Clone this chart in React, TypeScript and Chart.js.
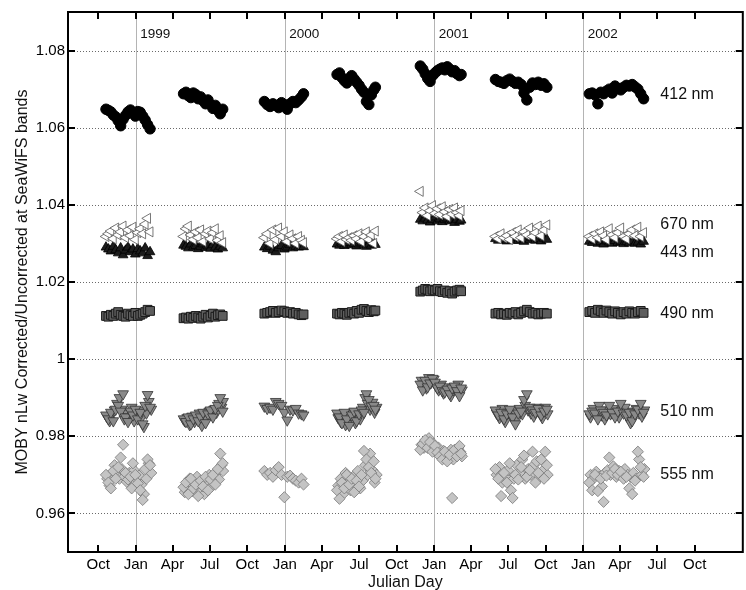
import React, { useEffect, useRef } from "react";
import { Chart, registerables } from "chart.js";

Chart.register(...registerables);

// Days counted from 1 Jan 1998, grouped by deployment (A..G)
const DAYS = [
  292, 298, 304, 310, 316, 322, 328, 334, 340, 346, 352, 358, 364, 370, 376, 382, 388, 394, 400,
  482, 488, 494, 500, 506, 512, 518, 524, 530, 536, 542, 548, 554, 560, 566, 572, 578,
  680, 687, 694, 701, 708, 715, 722, 729, 736, 743, 750, 757, 764, 771, 776,
  858, 864, 870, 876, 882, 888, 894, 900, 906, 912, 918, 924, 930, 936, 942, 948, 952,
  1062, 1068, 1074, 1080, 1086, 1092, 1098, 1104, 1110, 1116, 1122, 1128, 1134, 1140, 1146, 1152, 1158, 1162,
  1246, 1253, 1260, 1267, 1274, 1281, 1288, 1295, 1302, 1309, 1316, 1323, 1330, 1337, 1344, 1351, 1358, 1365, 1372,
  1476, 1483, 1490, 1497, 1504, 1511, 1518, 1525, 1532, 1539, 1546, 1553, 1560, 1567, 1574, 1581, 1588, 1595, 1602, 1609,
];

// extra match-up days (deployments A, B, D, E, F, G) for the denser 510/555 clouds
const DAYS_EXTRA = [
  295, 301, 307, 313, 319, 325, 331, 337, 343, 349, 355, 361, 367, 373, 379, 385, 391, 397, 403,
  485, 491, 497, 503, 509, 515, 521, 527, 533, 539, 545, 551, 557, 563, 569, 575, 579,
  861, 867, 873, 879, 885, 891, 897, 903, 909, 915, 921, 927, 933, 939, 945, 950, 955,
  1065, 1071, 1077, 1083, 1089, 1095, 1101, 1107, 1113, 1119, 1125, 1131, 1137, 1143, 1149, 1155, 1160, 1164,
  1249, 1256, 1263, 1270, 1277, 1284, 1291, 1298, 1305, 1312, 1319, 1326, 1333, 1340, 1347, 1354, 1361, 1368, 1374,
  1479, 1486, 1493, 1500, 1507, 1514, 1521, 1528, 1535, 1542, 1549, 1556, 1563, 1570, 1577, 1584, 1591, 1598, 1605, 1611,
];

const NM412 = [
  1.0648, 1.0645, 1.0641, 1.0633, 1.0628, 1.0618, 1.0605, 1.0622, 1.0632, 1.0641, 1.0646, 1.0638, 1.0630, 1.0642, 1.0640, 1.0630, 1.0620, 1.0608, 1.0597,
  1.0688, 1.0692, 1.0683, 1.0678, 1.0690, 1.0686, 1.0675, 1.0680, 1.0670, 1.0662, 1.0672, 1.0660, 1.0650, 1.0658, 1.0645, 1.0636, 1.0648,
  1.0668, 1.0660, 1.0655, 1.0662, 1.0658, 1.0652, 1.0665, 1.0660, 1.0648, 1.0662, 1.0668, 1.0665, 1.0672, 1.0680, 1.0688,
  1.0738, 1.0742, 1.0730, 1.0722, 1.0716, 1.0728, 1.0735, 1.0726, 1.0718, 1.0710, 1.0700, 1.0692, 1.0668, 1.0660, 1.0685, 1.0698, 1.0705,
  1.0760, 1.0752, 1.0740, 1.0728, 1.0720, 1.0735, 1.0742, 1.0748, 1.0752, 1.0755, 1.0750, 1.0758, 1.0752, 1.0745, 1.0748, 1.0740, 1.0735, 1.0738,
  1.0725, 1.0720, 1.0718, 1.0715, 1.0722, 1.0726, 1.0720, 1.0715, 1.0718, 1.0712, 1.0690, 1.0672, 1.0705, 1.0716, 1.0712, 1.0718, 1.0710, 1.0714, 1.0705,
  1.0688, 1.0690, 1.0685, 1.0662, 1.0692, 1.0688, 1.0695, 1.0700, 1.0690, 1.0708, 1.0702, 1.0698, 1.0705, 1.0710, 1.0708, 1.0712, 1.0706, 1.0700, 1.0688, 1.0675,
];

const NM670 = [
  1.0318, 1.0325, 1.0332, 1.0312, 1.0340, 1.0322, 1.0330, 1.0345, 1.0315, 1.0335, 1.0320, 1.0342, 1.0310, 1.0328, 1.0338, 1.0325, 1.0350, 1.0365, 1.0330,
  1.0318, 1.0338, 1.0345, 1.0322, 1.0310, 1.0330, 1.0315, 1.0335, 1.0305, 1.0325, 1.0332, 1.0312, 1.0328, 1.0338, 1.0308, 1.0320, 1.0302,
  1.0315, 1.0325, 1.0300, 1.0335, 1.0310, 1.0340, 1.0318, 1.0330, 1.0305, 1.0322, 1.0312, 1.0300, 1.0318, 1.0308, 1.0302,
  1.0312, 1.0318, 1.0305, 1.0322, 1.0310, 1.0315, 1.0308, 1.0320, 1.0312, 1.0325, 1.0305, 1.0318, 1.0330, 1.0310, 1.0322, 1.0300, 1.0332,
  1.0435, 1.0380, 1.0392, 1.0372, 1.0385, 1.0398, 1.0378, 1.0390, 1.0375, 1.0395, 1.0382, 1.0370, 1.0388, 1.0376, 1.0392, 1.0380, 1.0372, 1.0385,
  1.0318, 1.0312, 1.0325, 1.0315, 1.0320, 1.0310, 1.0328, 1.0318, 1.0335, 1.0315, 1.0330, 1.0322, 1.0340, 1.0318, 1.0328, 1.0345, 1.0320, 1.0335, 1.0348,
  1.0318, 1.0312, 1.0325, 1.0315, 1.0330, 1.0320, 1.0310, 1.0338, 1.0322, 1.0315, 1.0328, 1.0340, 1.0318, 1.0312, 1.0325, 1.0335, 1.0320, 1.0342, 1.0318, 1.0328,
];

const NM443 = [
  1.0290, 1.0285, 1.0280, 1.0292, 1.0283, 1.0275, 1.0288, 1.0270, 1.0282, 1.0290, 1.0278, 1.0285, 1.0272, 1.0286, 1.0280, 1.0275, 1.0288, 1.0268, 1.0278,
  1.0295, 1.0292, 1.0288, 1.0298, 1.0290, 1.0294, 1.0286, 1.0292, 1.0298, 1.0289, 1.0293, 1.0287, 1.0296, 1.0290, 1.0285, 1.0292, 1.0288,
  1.0290, 1.0286, 1.0292, 1.0282, 1.0278, 1.0288, 1.0294, 1.0285, 1.0290, 1.0296, 1.0288, 1.0292, 1.0290, 1.0294, 1.0291,
  1.0298, 1.0295, 1.0300, 1.0294, 1.0298, 1.0302, 1.0296, 1.0299, 1.0293, 1.0298, 1.0301, 1.0296, 1.0292, 1.0298, 1.0295, 1.0300, 1.0297,
  1.0362, 1.0358, 1.0365, 1.0360, 1.0355, 1.0362, 1.0368, 1.0358, 1.0363, 1.0356, 1.0362, 1.0365, 1.0358, 1.0360, 1.0354, 1.0362, 1.0357, 1.0360,
  1.0312, 1.0308, 1.0314, 1.0310, 1.0306, 1.0312, 1.0309, 1.0315, 1.0307, 1.0311, 1.0305, 1.0312, 1.0309, 1.0314, 1.0308, 1.0311, 1.0306, 1.0313, 1.0310,
  1.0305, 1.0302, 1.0308, 1.0300, 1.0304, 1.0298, 1.0306, 1.0303, 1.0300, 1.0307, 1.0302, 1.0305, 1.0299, 1.0304, 1.0301, 1.0306, 1.0300, 1.0303, 1.0298, 1.0305,
];

const NM490 = [
  1.0112, 1.0110, 1.0115, 1.0112, 1.0118, 1.0122, 1.0115, 1.0112, 1.0110, 1.0118, 1.0114, 1.0112, 1.0120, 1.0112, 1.0115, 1.0118, 1.0122, 1.0128, 1.0125,
  1.0106, 1.0108, 1.0105, 1.0110, 1.0107, 1.0112, 1.0108, 1.0105, 1.0110, 1.0115, 1.0108, 1.0112, 1.0118, 1.0110, 1.0114, 1.0116, 1.0112,
  1.0118, 1.0120, 1.0122, 1.0125, 1.0120, 1.0122, 1.0126, 1.0124, 1.0120, 1.0122, 1.0118, 1.0120, 1.0116, 1.0114, 1.0116,
  1.0118, 1.0116, 1.0120, 1.0118, 1.0115, 1.0120, 1.0122, 1.0118, 1.0125, 1.0120, 1.0128, 1.0130, 1.0125, 1.0122, 1.0127, 1.0124, 1.0126,
  1.0175, 1.0178, 1.0182, 1.0180, 1.0176, 1.0180, 1.0178, 1.0182, 1.0176, 1.0174, 1.0178, 1.0172, 1.0176, 1.0170, 1.0175, 1.0178, 1.0180, 1.0176,
  1.0118, 1.0120, 1.0116, 1.0118, 1.0115, 1.0120, 1.0118, 1.0122, 1.0116, 1.0120, 1.0124, 1.0128, 1.0122, 1.0118, 1.0120, 1.0116, 1.0118, 1.0120, 1.0118,
  1.0122, 1.0125, 1.0120, 1.0128, 1.0124, 1.0120, 1.0126, 1.0122, 1.0118, 1.0124, 1.0120, 1.0116, 1.0122, 1.0118, 1.0124, 1.0120, 1.0118, 1.0122, 1.0125, 1.0120,
];

const NM510 = [
  0.9855, 0.9845, 0.9862, 0.9840, 0.9870, 0.9880, 0.9865, 0.9910, 0.9850, 0.9838, 0.9865, 0.9855, 0.9870, 0.9845, 0.9862, 0.9832, 0.9880, 0.9908, 0.9875,
  0.9845, 0.9838, 0.9850, 0.9832, 0.9845, 0.9855, 0.9840, 0.9850, 0.9862, 0.9835, 0.9858, 0.9868, 0.9850, 0.9872, 0.9880, 0.9900, 0.9865,
  0.9878, 0.9872, 0.9875, 0.9870, 0.9890, 0.9885, 0.9880, 0.9862, 0.9842, 0.9870, 0.9868, 0.9872, 0.9860, 0.9858, 0.9855,
  0.9860, 0.9850, 0.9835, 0.9862, 0.9845, 0.9828, 0.9855, 0.9865, 0.9840, 0.9858, 0.9868, 0.9862, 0.9910, 0.9895, 0.9878, 0.9880, 0.9870,
  0.9935, 0.9920, 0.9945, 0.9928, 0.9938, 0.9950, 0.9940, 0.9925, 0.9930, 0.9918, 0.9915, 0.9922, 0.9910, 0.9925, 0.9930, 0.9918, 0.9905, 0.9925,
  0.9868, 0.9855, 0.9862, 0.9845, 0.9858, 0.9870, 0.9850, 0.9832, 0.9860, 0.9865, 0.9895, 0.9910, 0.9875, 0.9868, 0.9862, 0.9872, 0.9855, 0.9865, 0.9870,
  0.9858, 0.9865, 0.9860, 0.9845, 0.9868, 0.9862, 0.9855, 0.9880, 0.9862, 0.9850, 0.9865, 0.9885, 0.9860, 0.9855, 0.9862, 0.9840, 0.9858, 0.9870, 0.9885, 0.9862,
];

const NM510_EXTRA = [
  0.9850, 0.9840, 0.9858, 0.9868, 0.9885, 0.9900, 0.9870, 0.9845, 0.9860, 0.9850, 0.9875, 0.9840, 0.9858, 0.9868, 0.9848, 0.9825, 0.9860, 0.9890, 0.9870,
  0.9840, 0.9848, 0.9830, 0.9852, 0.9838, 0.9845, 0.9860, 0.9828, 0.9855, 0.9845, 0.9865, 0.9858, 0.9870, 0.9862, 0.9885, 0.9875, 0.9890,
  0.9848, 0.9838, 0.9858, 0.9830, 0.9850, 0.9842, 0.9860, 0.9835, 0.9852, 0.9845, 0.9875, 0.9900, 0.9885, 0.9870, 0.9888, 0.9862, 0.9875,
  0.9945, 0.9935, 0.9925, 0.9952, 0.9940, 0.9948, 0.9930, 0.9920, 0.9935, 0.9912, 0.9928, 0.9918, 0.9905, 0.9920, 0.9928, 0.9935, 0.9915, 0.9920,
  0.9860, 0.9848, 0.9872, 0.9838, 0.9862, 0.9855, 0.9868, 0.9845, 0.9872, 0.9858, 0.9880, 0.9868, 0.9860, 0.9852, 0.9875, 0.9862, 0.9848, 0.9875, 0.9858,
  0.9850, 0.9872, 0.9858, 0.9880, 0.9855, 0.9845, 0.9868, 0.9858, 0.9872, 0.9860, 0.9850, 0.9868, 0.9875, 0.9850, 0.9835, 0.9865, 0.9872, 0.9860, 0.9852, 0.9868,
];

const NM555 = [
  0.9700, 0.9680, 0.9665, 0.9710, 0.9690, 0.9720, 0.9745, 0.9778, 0.9705, 0.9688, 0.9695, 0.9730, 0.9700, 0.9678, 0.9660, 0.9635, 0.9715, 0.9740, 0.9725,
  0.9668, 0.9680, 0.9650, 0.9690, 0.9665, 0.9675, 0.9645, 0.9685, 0.9670, 0.9695, 0.9660, 0.9688, 0.9700, 0.9675, 0.9715, 0.9755, 0.9730,
  0.9710, 0.9700, 0.9705, 0.9695, 0.9712, 0.9720, 0.9700, 0.9642, 0.9695, 0.9698, 0.9690, 0.9685, 0.9680, 0.9690, 0.9675,
  0.9660, 0.9638, 0.9680, 0.9665, 0.9700, 0.9675, 0.9690, 0.9655, 0.9685, 0.9670, 0.9700, 0.9762, 0.9740, 0.9720, 0.9705, 0.9735, 0.9690,
  0.9765, 0.9780, 0.9790, 0.9770, 0.9785, 0.9760, 0.9775, 0.9758, 0.9748, 0.9740, 0.9760, 0.9735, 0.9752, 0.9640, 0.9765, 0.9748, 0.9775, 0.9755,
  0.9715, 0.9690, 0.9645, 0.9705, 0.9680, 0.9730, 0.9640, 0.9700, 0.9688, 0.9720, 0.9750, 0.9695, 0.9712, 0.9760, 0.9680, 0.9705, 0.9740, 0.9690, 0.9725,
  0.9680, 0.9660, 0.9700, 0.9658, 0.9690, 0.9630, 0.9698, 0.9745, 0.9705, 0.9715, 0.9700, 0.9708, 0.9690, 0.9695, 0.9665, 0.9650, 0.9685, 0.9760, 0.9720, 0.9695,
];

const NM555_EXTRA = [
  0.9690, 0.9672, 0.9705, 0.9725, 0.9700, 0.9690, 0.9715, 0.9695, 0.9682, 0.9705, 0.9665, 0.9712, 0.9690, 0.9698, 0.9675, 0.9650, 0.9690, 0.9730, 0.9705,
  0.9655, 0.9672, 0.9690, 0.9658, 0.9680, 0.9695, 0.9662, 0.9675, 0.9650, 0.9682, 0.9700, 0.9670, 0.9690, 0.9705, 0.9688, 0.9725, 0.9710,
  0.9672, 0.9690, 0.9650, 0.9705, 0.9680, 0.9660, 0.9695, 0.9675, 0.9710, 0.9665, 0.9685, 0.9725, 0.9700, 0.9755, 0.9712, 0.9680, 0.9700,
  0.9778, 0.9770, 0.9785, 0.9795, 0.9768, 0.9780, 0.9765, 0.9770, 0.9755, 0.9762, 0.9742, 0.9750, 0.9765, 0.9740, 0.9755, 0.9770, 0.9760, 0.9748,
  0.9700, 0.9720, 0.9680, 0.9695, 0.9712, 0.9660, 0.9690, 0.9725, 0.9705, 0.9740, 0.9690, 0.9715, 0.9700, 0.9725, 0.9735, 0.9695, 0.9710, 0.9760, 0.9700,
  0.9700, 0.9690, 0.9708, 0.9695, 0.9670, 0.9705, 0.9712, 0.9700, 0.9722, 0.9695, 0.9710, 0.9702, 0.9715, 0.9700, 0.9695, 0.9705, 0.9690, 0.9740, 0.9700, 0.9715,
];

const TICK_DAYS = [273, 365, 455, 546, 638, 730, 821, 912, 1004, 1096, 1186, 1277, 1369, 1461, 1551, 1642, 1734];
const TICK_LABELS = ["Oct", "Jan", "Apr", "Jul", "Oct", "Jan", "Apr", "Jul", "Oct", "Jan", "Apr", "Jul", "Oct", "Jan", "Apr", "Jul", "Oct"];
const Y_TICKS = [0.96, 0.98, 1, 1.02, 1.04, 1.06, 1.08];
const YEAR_DAYS = [365, 730, 1096, 1461];
const YEAR_LABELS = ["1999", "2000", "2001", "2002"];
const BAND_LABELS = ["412 nm", "670 nm", "443 nm", "490 nm", "510 nm", "555 nm"];
const BAND_LABEL_Y = [1.0687, 1.035, 1.0277, 1.0118, 0.9863, 0.97];
const BAND_LABEL_DAY = 1650;

const FONT = "'Liberation Sans', Arial, Helvetica, sans-serif";

const pts = (days: number[], vals: number[]) => days.map((d, i) => ({ x: d, y: vals[i] }));

const framePlugin = {
  id: "frame",
  beforeDatasetsDraw(chart: any) {
    const { ctx, chartArea: a, scales } = chart;
    const x = scales.x;
    const y = scales.y;
    ctx.save();
    ctx.lineWidth = 1;
    ctx.strokeStyle = "#6a6a6a";
    ctx.setLineDash([1, 2]);
    Y_TICKS.forEach((v) => {
      const py = Math.round(y.getPixelForValue(v)) + 0.5;
      ctx.beginPath();
      ctx.moveTo(a.left, py);
      ctx.lineTo(a.right, py);
      ctx.stroke();
    });
    ctx.setLineDash([]);
    ctx.strokeStyle = "#b4b4b4";
    YEAR_DAYS.forEach((d) => {
      const px = Math.round(x.getPixelForValue(d)) + 0.5;
      ctx.beginPath();
      ctx.moveTo(px, a.top);
      ctx.lineTo(px, a.bottom);
      ctx.stroke();
    });
    ctx.fillStyle = "#111";
    ctx.font = `13.5px ${FONT}`;
    ctx.textAlign = "left";
    ctx.textBaseline = "alphabetic";
    YEAR_DAYS.forEach((d, i) => {
      ctx.fillText(YEAR_LABELS[i], x.getPixelForValue(d) + 4.5, a.top + 25.5);
    });
    ctx.restore();
  },
  afterDatasetsDraw(chart: any) {
    const { ctx, chartArea: a, scales } = chart;
    const x = scales.x;
    const y = scales.y;
    ctx.save();
    ctx.strokeStyle = "#000";
    ctx.lineWidth = 2;
    ctx.strokeRect(a.left, a.top, a.right - a.left, a.bottom - a.top);
    const tl = 7;
    ctx.beginPath();
    TICK_DAYS.forEach((d) => {
      const px = Math.round(x.getPixelForValue(d));
      ctx.moveTo(px, a.bottom);
      ctx.lineTo(px, a.bottom - tl);
      ctx.moveTo(px, a.top);
      ctx.lineTo(px, a.top + tl);
    });
    Y_TICKS.forEach((v) => {
      const py = Math.round(y.getPixelForValue(v));
      ctx.moveTo(a.left, py);
      ctx.lineTo(a.left + tl, py);
      ctx.moveTo(a.right, py);
      ctx.lineTo(a.right - tl, py);
    });
    ctx.stroke();

    ctx.fillStyle = "#111";
    ctx.font = `16px ${FONT}`;
    ctx.textAlign = "left";
    ctx.textBaseline = "middle";
    BAND_LABELS.forEach((t, i) => {
      ctx.fillText(t, x.getPixelForValue(BAND_LABEL_DAY), y.getPixelForValue(BAND_LABEL_Y[i]));
    });

    ctx.textAlign = "center";
    ctx.textBaseline = "alphabetic";
    ctx.fillText("Julian Day", (a.left + a.right) / 2, 587);

    ctx.translate(27, (a.top + a.bottom) / 2);
    ctx.rotate(-Math.PI / 2);
    ctx.fillText("MOBY nLw Corrected/Uncorrected at SeaWiFS bands", 0, 0);
    ctx.restore();
  },
};

const STYLE_510 = {
  pointStyle: "triangle",
  rotation: 180,
  pointRadius: 6.2,
  backgroundColor: "#8a8a8a",
  borderColor: "#333",
  borderWidth: 0.8,
};

const STYLE_555 = {
  pointStyle: "rectRot",
  pointRadius: 5.6,
  backgroundColor: "#c4c4c4",
  borderColor: "#777",
  borderWidth: 0.8,
};

export default function App() {
  const ref = useRef<HTMLCanvasElement | null>(null);

  useEffect(() => {
    document.body.style.margin = "0";
    const canvas = ref.current;
    if (!canvas) return;
    const chart = new Chart(canvas, {
      type: "scatter",
      data: {
        datasets: [
          {
            label: "412 nm",
            data: pts(DAYS, NM412),
            pointStyle: "circle",
            pointRadius: 5.2,
            backgroundColor: "#000",
            borderColor: "#000",
            borderWidth: 1,
          },
          {
            label: "670 nm",
            data: pts(DAYS, NM670),
            pointStyle: "triangle",
            rotation: -90,
            pointRadius: 5.8,
            backgroundColor: "#fff",
            borderColor: "#555",
            borderWidth: 0.8,
          },
          {
            label: "443 nm",
            data: pts(DAYS, NM443),
            pointStyle: "triangle",
            pointRadius: 5.6,
            backgroundColor: "#1c1c1c",
            borderColor: "#000",
            borderWidth: 0.8,
          },
          {
            label: "490 nm",
            data: pts(DAYS, NM490),
            pointStyle: "rect",
            pointRadius: 6.2,
            backgroundColor: "#5e5e5e",
            borderColor: "#1a1a1a",
            borderWidth: 1,
          },
          { label: "510 nm", data: pts(DAYS, NM510), ...STYLE_510 },
          { label: "510 nm extra", data: pts(DAYS_EXTRA, NM510_EXTRA), ...STYLE_510 },
          { label: "555 nm", data: pts(DAYS, NM555), ...STYLE_555 },
          { label: "555 nm extra", data: pts(DAYS_EXTRA, NM555_EXTRA), ...STYLE_555 },
        ] as any,
      },
      options: {
        responsive: false,
        animation: false,
        layout: { padding: { left: 0, top: 8, right: 2, bottom: 0 } },
        plugins: {
          legend: { display: false },
          tooltip: { enabled: false },
        },
        scales: {
          x: {
            type: "linear",
            min: 199,
            max: 1852,
            grid: { display: false, drawTicks: false },
            border: { display: false },
            afterBuildTicks: (s: any) => {
              s.ticks = TICK_DAYS.map((v) => ({ value: v }));
            },
            afterFit: (s: any) => {
              s.height = 38;
            },
            ticks: {
              autoSkip: false,
              maxRotation: 0,
              padding: 4,
              color: "#000",
              font: { family: FONT, size: 15 },
              callback: (v: any) => {
                const i = TICK_DAYS.indexOf(Number(v));
                return i >= 0 ? TICK_LABELS[i] : "";
              },
            },
          },
          y: {
            type: "linear",
            min: 0.95,
            max: 1.09,
            grid: { display: false, drawTicks: false },
            border: { display: false },
            afterBuildTicks: (s: any) => {
              s.ticks = Y_TICKS.map((v) => ({ value: v }));
            },
            afterFit: (s: any) => {
              s.width = 68;
            },
            ticks: {
              padding: 3,
              color: "#000",
              font: { family: FONT, size: 15 },
              callback: (v: any) => String(Number(Number(v).toFixed(2))),
            },
          },
        },
      } as any,
      plugins: [framePlugin],
    });
    return () => chart.destroy();
  }, []);

  return (
    <div style={{ width: 746, height: 590, overflow: "hidden", position: "relative", background: "#fff" }}>
      <canvas ref={ref} width={750} height={590} style={{ display: "block" }} />
    </div>
  );
}
